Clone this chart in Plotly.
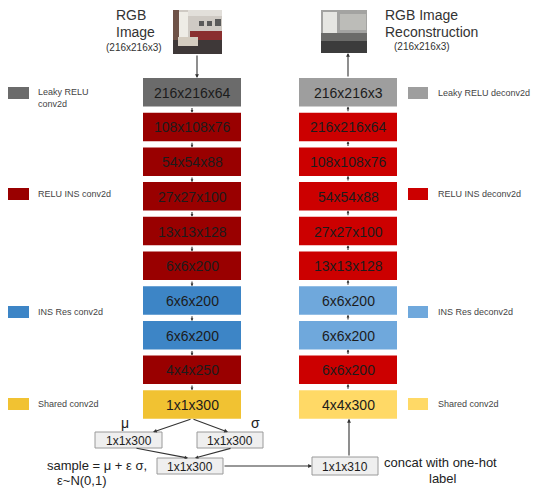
import plotly.graph_objects as go

# ---------------- data ----------------
enc_labels = ["216x216x64", "108x108x76", "54x54x88", "27x27x100", "13x13x128",
              "6x6x200", "6x6x200", "6x6x200", "4x4x250", "1x1x300"]
enc_kinds = ["leaky", "relu", "relu", "relu", "relu", "relu", "res", "res", "relu", "shared"]
dec_labels = ["216x216x3", "216x216x64", "108x108x76", "54x54x88", "27x27x100",
              "13x13x128", "6x6x200", "6x6x200", "6x6x200", "4x4x300"]
dec_kinds = ["leaky", "relu", "relu", "relu", "relu", "relu", "res", "res", "relu", "shared"]
enc_legend_kinds = ["leaky", "relu", "res", "shared"]
enc_legend_text = ["Leaky RELU<br>conv2d", "RELU INS conv2d", "INS Res conv2d", "Shared conv2d"]
dec_legend_text = ["Leaky RELU deconv2d", "RELU INS deconv2d", "INS Res deconv2d", "Shared conv2d"]
latent_labels = ["1x1x300", "1x1x300", "1x1x300", "1x1x310"]

enc_colors = {"leaky": "#6b6b6b", "relu": "#990000", "res": "#3d85c6", "shared": "#f1c232"}
dec_colors = {"leaky": "#9e9e9e", "relu": "#cc0000", "res": "#6fa8dc", "shared": "#ffd966"}

# ---------------- geometry ----------------
FONT = "Liberation Sans, Arial, sans-serif"
TOP0, PITCH, BH = 78.0, 34.7, 28.5
LX0, LX1 = 143, 241
RX0, RX1 = 299, 397
LCX, RCX = (LX0 + LX1) / 2, (RX0 + RX1) / 2
OFF = 8  # page body margin compensation

shapes = []
annos = []


def rect(x0, y0, x1, y1, fill, line=None, lw=0):
    shapes.append(dict(type="rect", xref="x", yref="y", x0=x0, y0=y0, x1=x1, y1=y1,
                       fillcolor=fill, line=dict(color=line or fill, width=lw), layer="below"))


def text(x, y, s, size=14, color="#1c1c1c", xanchor="center", yanchor="middle", align="center"):
    annos.append(dict(x=x, y=y, xref="x", yref="y", text=s, showarrow=False,
                      xanchor=xanchor, yanchor=yanchor, align=align,
                      font=dict(family=FONT, size=size, color=color)))


def arrow(x0, y0, x1, y1, size=0.6, width=1.1, color="#333333"):
    annos.append(dict(x=x1, y=y1, ax=x0, ay=y0, xref="x", yref="y", axref="x", ayref="y",
                      text="", showarrow=True, arrowhead=2, arrowsize=size, arrowwidth=width,
                      arrowcolor=color, standoff=0, startstandoff=0))


# encoder column
for i, (lab, k) in enumerate(zip(enc_labels, enc_kinds)):
    t = TOP0 + i * PITCH
    rect(LX0, t, LX1, t + BH, enc_colors[k])
    text(LCX, t + BH / 2 + 0.5, lab)
    if i < len(enc_labels) - 1:
        arrow(LCX, t + BH, LCX, TOP0 + (i + 1) * PITCH, size=0.5)

# decoder column
for i, (lab, k) in enumerate(zip(dec_labels, dec_kinds)):
    t = TOP0 + i * PITCH
    rect(RX0, t, RX1, t + BH, dec_colors[k])
    text(RCX, t + BH / 2 + 0.5, lab)
    if i < len(dec_labels) - 1:
        arrow(RCX, TOP0 + (i + 1) * PITCH, RCX, t + BH, size=0.5)

# legends
leg_y = [93, 194, 312, 404]
for k, s, y in zip(enc_legend_kinds, enc_legend_text, leg_y):
    rect(8, y - 6, 29, y + 6, enc_colors[k])
    yy = y + 5 if "<br>" in s else y
    text(36, yy, s, size=9, color="#444444", xanchor="left", align="left")
for k, s, y in zip(enc_legend_kinds, dec_legend_text, leg_y):
    rect(408, y - 6, 428, y + 6, dec_colors[k])
    text(436, y, s, size=9, color="#444444", xanchor="left", align="left")

# input / output images (approximate photo thumbnails)
rect(173, 10, 222, 54, "#cfcac4")
rect(173, 10, 179, 54, "#6e5247")
rect(179, 12, 188, 38, "#eeece6")
rect(188, 10, 222, 16, "#e2dfda")
rect(199, 21, 204, 26, "#5a5a5a")
rect(207, 21, 212, 26, "#5a5a5a")
rect(215, 19, 221, 26, "#5a5a5a")
rect(190, 31, 222, 40, "#8a2f2f")
rect(173, 40, 222, 54, "#3e3838")
rect(178, 37, 198, 46, "#d4ccc0")

rect(321, 10, 367, 53, "#a3a3a1")
rect(323, 12, 337, 36, "#e6e6e2")
rect(340, 14, 366, 30, "#bcbcb8")
rect(321, 33, 367, 41, "#6b6b69")
rect(321, 41, 367, 53, "#3c3c3c")

arrow(LCX + 5, 54, LCX + 5, TOP0, size=0.7)
arrow(348, TOP0, 348, 53, size=0.7)

# titles
text(131, 15, "RGB", size=14, color="#333333")
text(135, 32, "Image", size=14, color="#333333")
text(134, 47, "(216x216x3)", size=10, color="#333333")
text(383, 15, "RGB Image", size=14, color="#333333", xanchor="left")
text(383, 32, "Reconstruction", size=14, color="#333333", xanchor="left")
text(422, 46, "(216x216x3)", size=10, color="#333333")

# latent section
yb = TOP0 + 9 * PITCH + BH  # bottom of encoder 1x1x300
boxes = [(95, 432, 162, 448), (197, 432, 263, 448), (157, 458, 223, 474), (312, 457, 378, 475)]
for (x0, y0, x1, y1), lab in zip(boxes, latent_labels):
    rect(x0, y0, x1, y1, "#efefef", "#9a9a9a", 1)
    text((x0 + x1) / 2, (y0 + y1) / 2 + 0.5, lab, size=12)

arrow(192, yb, 153, 432, size=0.7)
arrow(192, yb, 228, 432, size=0.7)
arrow(135, 448, 188, 458, size=0.6)
arrow(232, 448, 195, 458, size=0.6)
arrow(223, 466, 312, 466, size=0.7)
arrow(349, 457, 349, yb, size=0.7)

text(125, 423, "μ", size=14, color="#222222")
text(255, 423, "σ", size=14, color="#222222")
text(149, 465, "sample = μ + ε σ,", size=13, color="#222222", xanchor="right")
text(82, 480, "ε~N(0,1)", size=13, color="#222222")
text(382, 462, "concat with one-hot", size=13, color="#222222", xanchor="left")
text(443, 478, "label", size=13, color="#222222")

fig = go.Figure()
fig.update_layout(
    width=539, height=490, autosize=False,
    margin=dict(l=0, r=0, t=0, b=0),
    paper_bgcolor="white", plot_bgcolor="white",
    xaxis=dict(range=[OFF, 539 + OFF], visible=False, fixedrange=True),
    yaxis=dict(range=[490 + OFF, OFF], visible=False, fixedrange=True),
    shapes=shapes, annotations=annos, showlegend=False,
)
fig.write_html("out.html")
